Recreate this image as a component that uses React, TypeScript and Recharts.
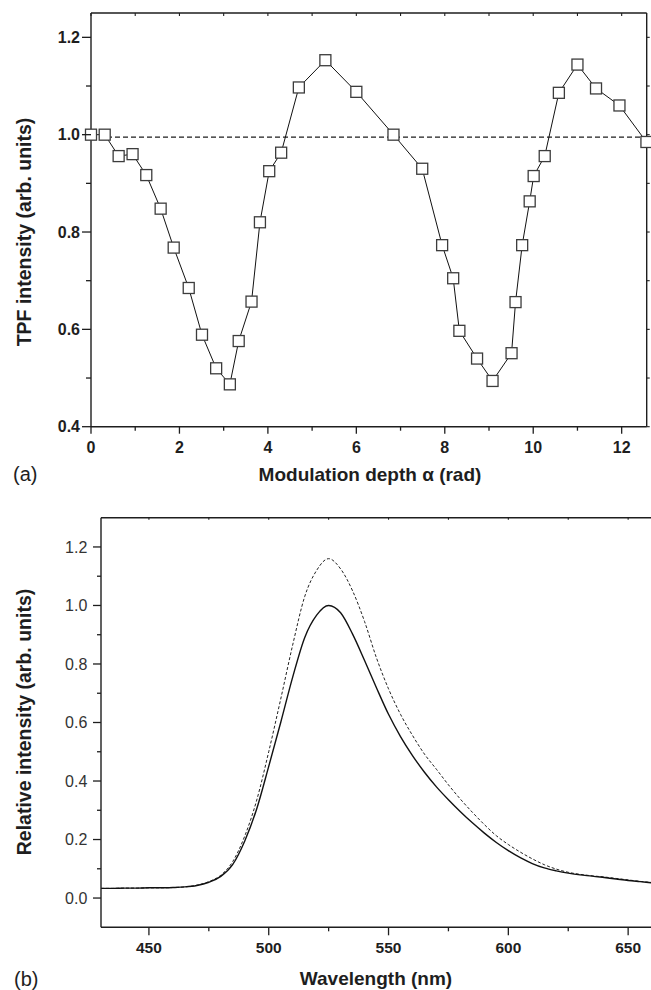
import React from 'react';
import { LineChart, Line, XAxis, YAxis, ReferenceLine, Label } from 'recharts';

// ---------- Panel (a) data ----------
const alphaRad = [0, 0.31, 0.625, 0.94, 1.25, 1.575, 1.87, 2.21, 2.51, 2.83, 3.14, 3.34, 3.63, 3.82, 4.03, 4.3, 4.7, 5.3, 6.0, 6.84, 7.49, 7.94, 8.19, 8.33, 8.73, 9.08, 9.51, 9.6, 9.75, 9.92, 10.01, 10.26, 10.58, 11.0, 11.42, 11.95, 12.56];
const tpfIntensity = [1.0, 1.0, 0.956, 0.96, 0.917, 0.848, 0.768, 0.685, 0.589, 0.52, 0.487, 0.576, 0.657, 0.82, 0.925, 0.963, 1.097, 1.153, 1.088, 1.0, 0.93, 0.773, 0.705, 0.597, 0.54, 0.494, 0.551, 0.656, 0.773, 0.863, 0.915, 0.956, 1.086, 1.144, 1.095, 1.06, 0.985];
const tpfReference = 0.995;
const aXTicks = [0, 1, 2, 3, 4, 5, 6, 7, 8, 9, 10, 11, 12];
const aXMajor = [0, 2, 4, 6, 8, 10, 12];
const aYTicks = [0.4, 0.5, 0.6, 0.7, 0.8, 0.9, 1.0, 1.1, 1.2];
const aYMajor = [0.4, 0.6, 0.8, 1.0, 1.2];

// ---------- Panel (b) data ----------
const wavelengthNm = [430, 435, 440, 445, 450, 455, 460, 465, 470, 475, 480, 485, 490, 495, 500, 505, 510, 515, 520, 525, 530, 535, 540, 545, 550, 555, 560, 565, 570, 575, 580, 585, 590, 595, 600, 605, 610, 615, 620, 625, 630, 635, 640, 645, 650, 655, 660];
const solidSpectrum = [0.033, 0.033, 0.034, 0.034, 0.035, 0.035, 0.036, 0.038, 0.043, 0.054, 0.074, 0.115, 0.195, 0.305, 0.45, 0.6, 0.755, 0.89, 0.967, 1.0, 0.975, 0.902, 0.812, 0.718, 0.628, 0.552, 0.487, 0.43, 0.38, 0.336, 0.295, 0.257, 0.222, 0.19, 0.162, 0.138, 0.118, 0.103, 0.093, 0.085, 0.079, 0.075, 0.07, 0.065, 0.06, 0.056, 0.052];
const dashedSpectrum = [0.033, 0.033, 0.034, 0.034, 0.035, 0.035, 0.036, 0.038, 0.044, 0.056, 0.078, 0.125, 0.212, 0.335, 0.5, 0.68, 0.865, 1.03, 1.12, 1.16, 1.125, 1.05, 0.945, 0.82, 0.715, 0.628, 0.556, 0.492, 0.44, 0.387, 0.338, 0.293, 0.251, 0.213, 0.183, 0.157, 0.134, 0.114, 0.099, 0.088, 0.081, 0.076, 0.072, 0.067, 0.062, 0.057, 0.053];
const bXTicks = [450, 475, 500, 525, 550, 575, 600, 625, 650];
const bXMajor = [450, 500, 550, 600, 650];
const bYTicks = [0, 0.1, 0.2, 0.3, 0.4, 0.5, 0.6, 0.7, 0.8, 0.9, 1.0, 1.1, 1.2];
const bYMajor = [0, 0.2, 0.4, 0.6, 0.8, 1.0, 1.2];

const dataA = alphaRad.map((a, i) => ({ alpha: a, tpf: tpfIntensity[i] }));
const dataB = wavelengthNm.map((w, i) => ({ wl: w, solid: solidSpectrum[i], dashed: dashedSpectrum[i] }));

const FONT = '"Liberation Sans", Arial, Helvetica, sans-serif';
const INK = '#1e1e1e';

type TickOpts = {
  side: 'bottom' | 'left' | 'top' | 'right';
  majors: number[];
  majorLen: number;
  minorLen: number;
  label?: boolean;
  labelOffset?: number;
  fontSize?: number;
  bold?: boolean;
  color?: string;
  fmt?: (v: number) => string;
};

const makeTick = (o: TickOpts) => (p: any) => {
  const { x, y, payload } = p;
  const v = payload.value as number;
  const isMajor = o.majors.some((m) => Math.abs(m - v) < 1e-6);
  const len = isMajor ? o.majorLen : o.minorLen;
  const text = o.fmt ? o.fmt(v) : String(v);
  const tStyle = { fontFamily: FONT, fontSize: o.fontSize ?? 16, fontWeight: o.bold ? 700 : 400, fill: o.color ?? INK };
  if (o.side === 'bottom') {
    return (
      <g>
        <line x1={x} y1={y} x2={x} y2={y + len} stroke={INK} strokeWidth={1.3} />
        {o.label && isMajor ? (
          <text x={x} y={y + (o.labelOffset ?? 26)} textAnchor="middle" style={tStyle}>{text}</text>
        ) : null}
      </g>
    );
  }
  if (o.side === 'left') {
    return (
      <g>
        <line x1={x} y1={y} x2={x - len} y2={y} stroke={INK} strokeWidth={1.3} />
        {o.label && isMajor ? (
          <text x={x - (o.labelOffset ?? 11)} y={y + 5.7} textAnchor="end" style={tStyle}>{text}</text>
        ) : null}
      </g>
    );
  }
  if (o.side === 'top') {
    return <line x1={x} y1={y} x2={x} y2={y + len} stroke={INK} strokeWidth={1.1} />;
  }
  return <line x1={x} y1={y} x2={x + len} y2={y} stroke={INK} strokeWidth={1.1} />;
};

const SquareDot = (p: any) => {
  const { cx, cy, index } = p;
  if (cx == null || cy == null) return <g key={`d${index}`} />;
  return (
    <rect key={`d${index}`} x={cx - 5.5} y={cy - 5.5} width={11} height={11} fill="#fff" stroke="#3c3c3c" strokeWidth={1.3} />
  );
};

const fmt1 = (v: number) => v.toFixed(1);

export default function App() {
  return (
    <div style={{ position: 'absolute', left: 0, top: 0, width: 651, height: 990, overflow: 'hidden', background: '#fff' }}>
      {/* Panel (a) */}
      <div style={{ position: 'absolute', left: 0, top: 0 }}>
        <LineChart width={651} height={490} data={dataA} margin={{ top: 12, right: 3.3, bottom: 23.3, left: 31 }}>
          <XAxis
            xAxisId="main"
            dataKey="alpha"
            type="number"
            domain={[0, 12.566]}
            ticks={aXTicks}
            interval={0}
            height={40}
            tickSize={0}
            tickMargin={0}
            tickLine={false}
            axisLine={{ stroke: INK, strokeWidth: 1.4 }}
            tick={makeTick({ side: 'bottom', majors: aXMajor, majorLen: 7, minorLen: 4, label: true, labelOffset: 26, bold: true })}
          >
            <Label
              content={() => (
                <g>
                  <text x={370} y={480.5} textAnchor="middle" style={{ fontFamily: FONT, fontSize: 19, fontWeight: 700, fill: INK }}>
                    Modulation depth α (rad)
                  </text>
                  <text x={13} y={481} style={{ fontFamily: FONT, fontSize: 20, fontWeight: 400, fill: INK }}>(a)</text>
                </g>
              )}
            />
          </XAxis>
          <XAxis
            xAxisId="top"
            orientation="top"
            dataKey="alpha"
            type="number"
            domain={[0, 12.566]}
            ticks={aXTicks}
            interval={0}
            height={1}
            tickSize={0}
            tickMargin={0}
            tickLine={false}
            axisLine={{ stroke: INK, strokeWidth: 1.4 }}
            tick={makeTick({ side: 'top', majors: aXMajor, majorLen: 3, minorLen: 3 })}
          />
          <YAxis
            yAxisId="main"
            type="number"
            domain={[0.4, 1.25]}
            ticks={aYTicks}
            interval={0}
            width={60}
            tickSize={0}
            tickMargin={0}
            tickLine={false}
            axisLine={{ stroke: INK, strokeWidth: 1.4 }}
            tick={makeTick({ side: 'left', majors: aYMajor, majorLen: 9, minorLen: 5, label: true, labelOffset: 11, bold: true, fmt: fmt1 })}
          >
            <Label
              content={() => (
                <text
                  x={24}
                  y={232}
                  dy={7}
                  transform="rotate(-90 24 232)"
                  textAnchor="middle"
                  style={{ fontFamily: FONT, fontSize: 19.5, fontWeight: 700, fill: INK }}
                >
                  TPF intensity (arb. units)
                </text>
              )}
            />
          </YAxis>
          <YAxis
            yAxisId="right"
            orientation="right"
            type="number"
            domain={[0.4, 1.25]}
            ticks={aYTicks}
            interval={0}
            width={1}
            tickSize={0}
            tickMargin={0}
            tickLine={false}
            axisLine={{ stroke: INK, strokeWidth: 1.4 }}
            tick={makeTick({ side: 'right', majors: aYMajor, majorLen: 3, minorLen: 3 })}
          />
          <ReferenceLine xAxisId="main" yAxisId="main" y={tpfReference} stroke={INK} strokeWidth={1.1} strokeDasharray="5 3" />
          {/* invisible series so the frame axes (top/right) are rendered */}
          <Line
            xAxisId="top"
            yAxisId="right"
            dataKey="tpf"
            stroke="none"
            dot={false}
            activeDot={false}
            legendType="none"
            isAnimationActive={false}
          />
          <Line
            xAxisId="main"
            yAxisId="main"
            dataKey="tpf"
            type="linear"
            stroke="#111"
            strokeWidth={1}
            dot={SquareDot}
            activeDot={false}
            isAnimationActive={false}
          />
        </LineChart>
      </div>

      {/* Panel (b) */}
      <div style={{ position: 'absolute', left: 0, top: 490 }}>
        <LineChart width={660} height={500} data={dataB} margin={{ top: 26.7, right: 7.9, bottom: 22.7, left: 41 }}>
          <XAxis
            xAxisId="main"
            dataKey="wl"
            type="number"
            domain={[430, 660]}
            ticks={bXTicks}
            interval={0}
            height={40}
            tickSize={0}
            tickMargin={0}
            tickLine={false}
            axisLine={{ stroke: INK, strokeWidth: 1.4 }}
            tick={makeTick({ side: 'bottom', majors: bXMajor, majorLen: 8, minorLen: 4, label: true, labelOffset: 26, bold: true, fontSize: 15.5 })}
          >
            <Label
              content={() => (
                <g>
                  <text x={376} y={495} textAnchor="middle" style={{ fontFamily: FONT, fontSize: 19, fontWeight: 700, fill: INK }}>
                    Wavelength (nm)
                  </text>
                  <text x={14} y={496} style={{ fontFamily: FONT, fontSize: 20, fontWeight: 400, fill: INK }}>(b)</text>
                </g>
              )}
            />
          </XAxis>
          <XAxis
            xAxisId="top"
            orientation="top"
            dataKey="wl"
            type="number"
            domain={[430, 660]}
            ticks={bXTicks}
            interval={0}
            height={1}
            tickSize={0}
            tickMargin={0}
            tickLine={false}
            axisLine={{ stroke: INK, strokeWidth: 1.4 }}
            tick={makeTick({ side: 'top', majors: bXMajor, majorLen: 2, minorLen: 2 })}
          />
          <YAxis
            yAxisId="main"
            type="number"
            domain={[-0.1, 1.3]}
            ticks={bYTicks}
            interval={0}
            width={60}
            tickSize={0}
            tickMargin={0}
            tickLine={false}
            axisLine={{ stroke: INK, strokeWidth: 1.4 }}
            tick={makeTick({ side: 'left', majors: bYMajor, majorLen: 8, minorLen: 4, label: true, labelOffset: 13.7, bold: false, color: '#333', fmt: fmt1 })}
          >
            <Label
              content={() => (
                <text
                  x={24}
                  y={232}
                  dy={7}
                  transform="rotate(-90 24 232)"
                  textAnchor="middle"
                  style={{ fontFamily: FONT, fontSize: 19.5, fontWeight: 700, fill: INK }}
                >
                  Relative intensity (arb. units)
                </text>
              )}
            />
          </YAxis>
          {/* invisible series so the top frame axis is rendered */}
          <Line
            xAxisId="top"
            yAxisId="main"
            dataKey="solid"
            stroke="none"
            dot={false}
            activeDot={false}
            legendType="none"
            isAnimationActive={false}
          />
          <Line
            xAxisId="main"
            yAxisId="main"
            dataKey="dashed"
            type="monotone"
            stroke="#222"
            strokeWidth={1}
            strokeDasharray="3 2"
            dot={false}
            activeDot={false}
            isAnimationActive={false}
          />
          <Line
            xAxisId="main"
            yAxisId="main"
            dataKey="solid"
            type="monotone"
            stroke="#111"
            strokeWidth={1.4}
            dot={false}
            activeDot={false}
            isAnimationActive={false}
          />
        </LineChart>
      </div>
    </div>
  );
}
